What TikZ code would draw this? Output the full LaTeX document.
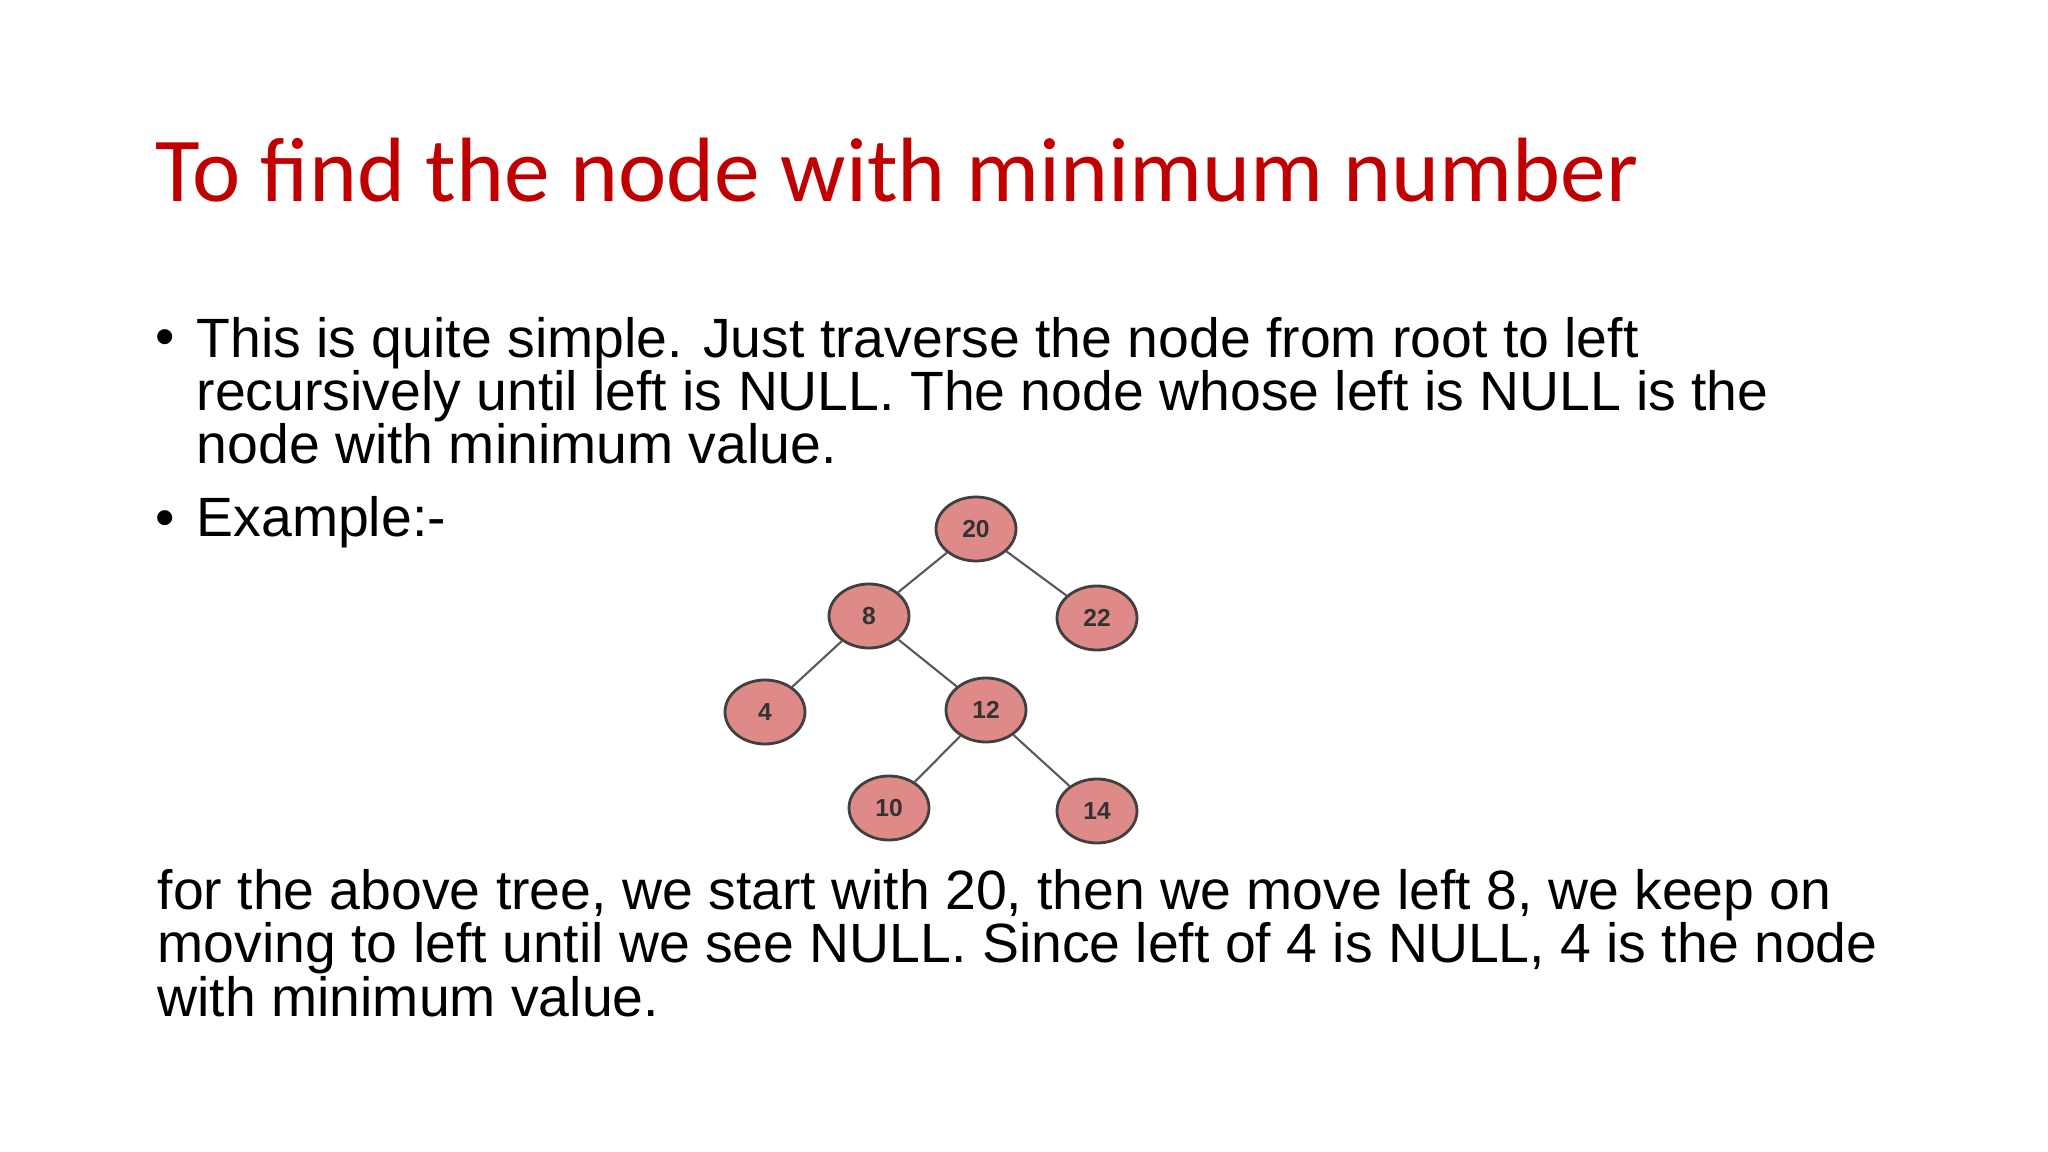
\documentclass[tikz,border=0pt]{standalone}
\usepackage{fontspec}
\setmainfont{Liberation Sans}
\newfontfamily\titlefont{Carlito}
\usetikzlibrary{shapes.geometric}
\definecolor{titred}{HTML}{C00000}
\definecolor{nodefill}{HTML}{DE8A88}
\newcommand\mybodyfont{\fontsize{15.75}{15.2}\selectfont\lineskiplimit=-20pt\relax\lineskip=0pt\relax}
\tikzset{
  tnode/.style={ellipse, draw=black!75, line width=0.8pt, fill=nodefill, minimum width=0.80cm, minimum height=0.64cm, inner sep=0pt, font=\fontsize{7}{8}\selectfont\bfseries, text=black!80},
  tedge/.style={draw=black!65, line width=0.6pt},
  body/.style={anchor=base west, align=left, inner sep=0pt, font=\mybodyfont}
}
\begin{document}
\begin{tikzpicture}
\useasboundingbox[fill=white] (0,0) rectangle (20.48,-11.52);
\node[anchor=base west, inner sep=0pt, text=titred, font=\titlefont\fontsize{26}{30}\selectfont] (title) at (1.55,-2.02) {To find the node with minimum number};
\node[anchor=base west, inner sep=0pt, font=\mybodyfont] (b1) at (1.55,-3.56) {•};
\node[body] (p1) at (1.96,-4.64) {This is quite simple. Just traverse the node from root to left\\recursively until left is NULL. The node whose left is NULL is the\\node with minimum value.};
\node[anchor=base west, inner sep=0pt, font=\mybodyfont] (b2) at (1.55,-5.37) {•};
\node[body] (p2) at (1.96,-5.37) {Example:-};
\node[body] (p3) at (1.57,-10.16) {for the above tree, we start with 20, then we move left 8, we keep on\\moving to left until we see NULL. Since left of 4 is NULL, 4 is the node\\with minimum value.};
\node[tnode] (n20) at (9.76,-5.29) {20};
\node[tnode] (n8) at (8.69,-6.16) {8};
\node[tnode] (n22) at (10.97,-6.18) {22};
\node[tnode] (n4) at (7.65,-7.12) {4};
\node[tnode] (n12) at (9.86,-7.10) {12};
\node[tnode] (n10) at (8.89,-8.08) {10};
\node[tnode] (n14) at (10.97,-8.11) {14};
\draw[tedge] (n20) -- (n8);
\draw[tedge] (n20) -- (n22);
\draw[tedge] (n8) -- (n4);
\draw[tedge] (n8) -- (n12);
\draw[tedge] (n12) -- (n10);
\draw[tedge] (n12) -- (n14);
\end{tikzpicture}
\end{document}
